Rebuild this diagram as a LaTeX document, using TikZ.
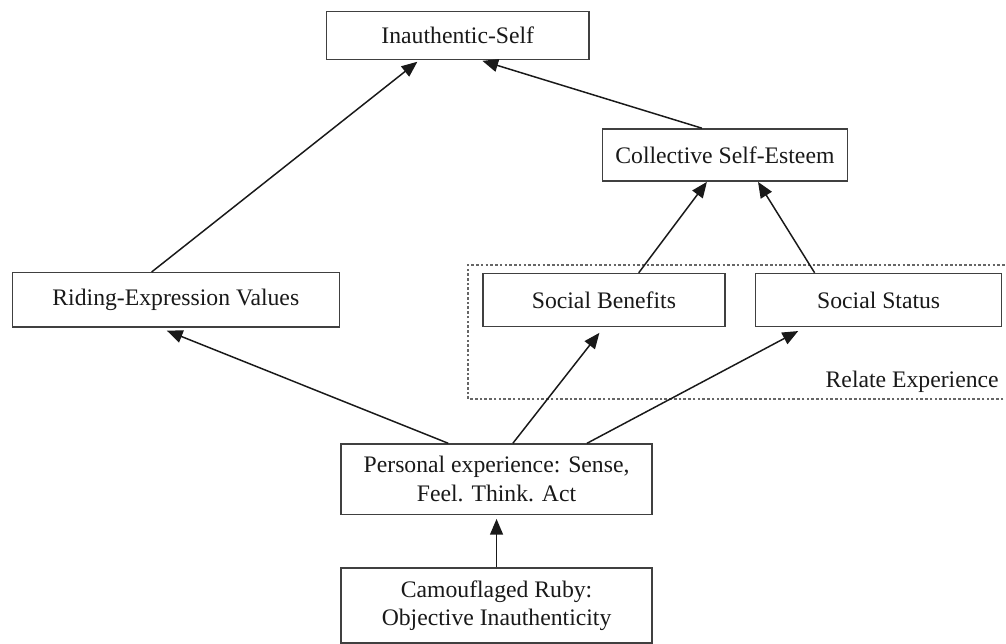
\documentclass[tikz,border=0pt]{standalone}
\usepackage{fontspec}
\setmainfont{Liberation Serif}
\usepackage{tikz}
\usetikzlibrary{arrows.meta,positioning,calc}

\begin{document}
\begin{tikzpicture}[
  box/.style={rectangle, draw=black!75, line width=0.75pt, fill=white,
    minimum height=0.94cm, font=\fontsize{12}{14.5}\selectfont,
    text=black!90, align=center, inner sep=2pt},
  link/.style={->, draw=black!90, line width=0.75pt},
  group/.style={draw=black!60, line width=0.75pt,
    dash pattern=on 1.3pt off 1.1pt},
  >={Triangle[length=2.8mm,width=2.3mm]}
]
  \useasboundingbox (0,0) rectangle (17.91,-11.45);

  \node[box, minimum width=4.68cm, minimum height=0.85cm] (inauth) at (8.15,-0.63) {Inauthentic-Self};
  \node[box, minimum width=4.36cm, minimum height=0.93cm] (collective) at (12.905,-2.76) {Collective Self-Esteem};
  \node[box, minimum width=5.82cm, minimum height=0.97cm] (riding) at (3.13,-5.34) {Riding-Expression Values};
  \node[box, minimum width=4.31cm, right=2.53cm of riding] (benefits) {Social Benefits};
  \node[box, minimum width=4.38cm, right=0.52cm of benefits] (status) {Social Status};
  \node[box, minimum width=5.54cm, minimum height=1.25cm] (personal) at (8.84,-8.53) {Personal experience: Sense,\\Feel. Think. Act};
  \node[box, minimum width=5.54cm, minimum height=1.34cm, below=0.93cm of personal] (ruby) {Camouflaged Ruby:\\Objective Inauthenticity};

  % relate experience group
  \draw[group] ($(benefits.south west)+(-0.25,-1.28)$) rectangle ($(status.north east)+(0.5,0.14)$);
  \node[anchor=east, inner sep=0, font=\fontsize{12}{14.5}\selectfont, text=black!90] (relate)
    at ($(status.south east)+(-0.06,-0.98)$) {Relate Experience};

  \draw[link, shorten >=0.5mm] ([xshift=-4.3mm]riding.north) -- ([xshift=-6.8mm]inauth.south);
  \draw[link, shorten >=0.5mm] ([xshift=-4.1mm]collective.north) -- ([xshift=3.9mm]inauth.south);
  \draw[link] ([xshift=6.2mm]benefits.north) -- ([xshift=-3.2mm]collective.south);
  \draw[link] ([xshift=-11.4mm]status.north) -- ([xshift=5.9mm]collective.south);
  \draw[link, shorten >=1.3mm] ([xshift=-8.6mm]personal.north) -- ([xshift=-2.8mm]riding.south);
  \draw[link, shorten >=1.3mm] ([xshift=2.9mm]personal.north) -- (benefits.south);
  \draw[link, shorten >=1.5mm] ([xshift=16.1mm]personal.north) -- ([xshift=-13mm]status.south);
  \draw[link, shorten >=0.7mm] (ruby) -- (personal);
\end{tikzpicture}
\end{document}
